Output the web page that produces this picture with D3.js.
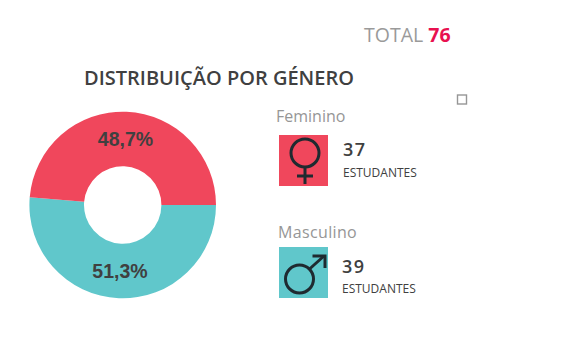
<!DOCTYPE html>
<html>
<head>
<meta charset="utf-8">
<script src="https://cdn.jsdelivr.net/npm/d3@7"></script>
<style>
  html, body { margin: 0; padding: 0; background: #fff; }
  text { font-family: "Open Sans", sans-serif; }
</style>
</head>
<body>
<div id="chart-area"></div>
<script>
var genders = ['Masculino', 'Feminino'];
var counts = [39, 37];
var shares = ['51,3%', '48,7%'];
var colors = ['#60c7cb', '#f0475c'];
var total = 76;

var svg = d3.select('#chart-area')
  .append('svg')
    .attr('width', 570)
    .attr('height', 360)
    .style('display', 'block');

// total
var totalText = svg.append('text')
  .attr('x', 364)
  .attr('y', 42)
  .attr('font-size', '19.5px');
totalText.append('tspan').attr('fill', '#9a9a9a').text('TOTAL ');
totalText.append('tspan').attr('fill', '#e8114f').attr('font-weight', 'bold').text(total);

// title
svg.append('text')
  .attr('x', 84)
  .attr('y', 85)
  .attr('font-size', '20px')
  .attr('font-weight', 600)
  .attr('fill', '#404040')
  .text('DISTRIBUIÇÃO POR GÉNERO');

// small empty square
svg.append('rect')
  .attr('x', 457.5)
  .attr('y', 95)
  .attr('width', 9)
  .attr('height', 9)
  .attr('fill', '#fff')
  .attr('stroke', '#969696')
  .attr('stroke-width', 1.4);

// donut, starts at 3 o'clock and goes clockwise
var pie = d3.pie()
  .sort(null)
  .startAngle(Math.PI / 2)
  .endAngle(Math.PI / 2 + 2 * Math.PI);

var arc = d3.arc().innerRadius(38.7).outerRadius(93.3);
var labelArc = d3.arc().innerRadius(66).outerRadius(66);

var donut = svg.append('g').attr('transform', 'translate(122.7, 205)');
var slices = pie(counts);

donut.selectAll('path')
  .data(slices)
  .enter()
  .append('path')
    .attr('d', arc)
    .attr('fill', (d, i) => colors[i]);

donut.selectAll('text')
  .data(slices)
  .enter()
  .append('text')
    .attr('x', d => labelArc.centroid(d)[0])
    .attr('y', d => labelArc.centroid(d)[1])
    .attr('text-anchor', 'middle')
    .attr('dy', '0.36em')
    .style('font-family', '"Liberation Sans", sans-serif')
    .attr('font-size', '19.5px')
    .attr('font-weight', 'bold')
    .attr('fill', '#404040')
    .text((d, i) => shares[i]);

// legend blocks, one per gender
var legendPos = [
  { labelX: 278, labelY: 238, boxX: 279, boxY: 247, boxH: 51, textX: 342, numY: 273, subY: 293, spacing: 0.35 },
  { labelX: 276, labelY: 122, boxX: 279, boxY: 135, boxH: 51, textX: 343, numY: 156, subY: 177, spacing: 0 }
];

legendPos.forEach((p, i) => {
  svg.append('text')
    .attr('x', p.labelX)
    .attr('y', p.labelY)
    .attr('font-size', '16px')
    .attr('letter-spacing', p.spacing + 'px')
    .attr('fill', '#969696')
    .text(genders[i]);

  svg.append('rect')
    .attr('x', p.boxX)
    .attr('y', p.boxY)
    .attr('width', 49)
    .attr('height', p.boxH)
    .attr('fill', colors[i]);

  svg.append('text')
    .attr('x', p.textX)
    .attr('y', p.numY)
    .attr('font-size', '18px')
    .attr('font-weight', 600)
    .attr('letter-spacing', '1.5px')
    .attr('fill', '#404040')
    .text(counts[i]);

  svg.append('text')
    .attr('x', p.textX)
    .attr('y', p.subY)
    .attr('font-size', '12px')
    .attr('fill', '#404040')
    .text('ESTUDANTES');
});

// gender symbols
var iconStroke = '#1f2a30';

var venus = svg.append('g')
  .attr('fill', 'none')
  .attr('stroke', iconStroke)
  .attr('stroke-width', 3);
venus.append('circle').attr('cx', 305).attr('cy', 153).attr('r', 14);
venus.append('line').attr('x1', 305).attr('y1', 167).attr('x2', 305).attr('y2', 184);
venus.append('line').attr('x1', 297).attr('y1', 176).attr('x2', 313).attr('y2', 176);

var mars = svg.append('g')
  .attr('fill', 'none')
  .attr('stroke', iconStroke)
  .attr('stroke-width', 3);
mars.append('circle').attr('cx', 299.5).attr('cy', 279).attr('r', 14);
mars.append('line').attr('x1', 309.5).attr('y1', 269).attr('x2', 324).attr('y2', 256);
mars.append('path').attr('d', 'M312.5 256 L325 256 L325 268');
</script>
</body>
</html>
